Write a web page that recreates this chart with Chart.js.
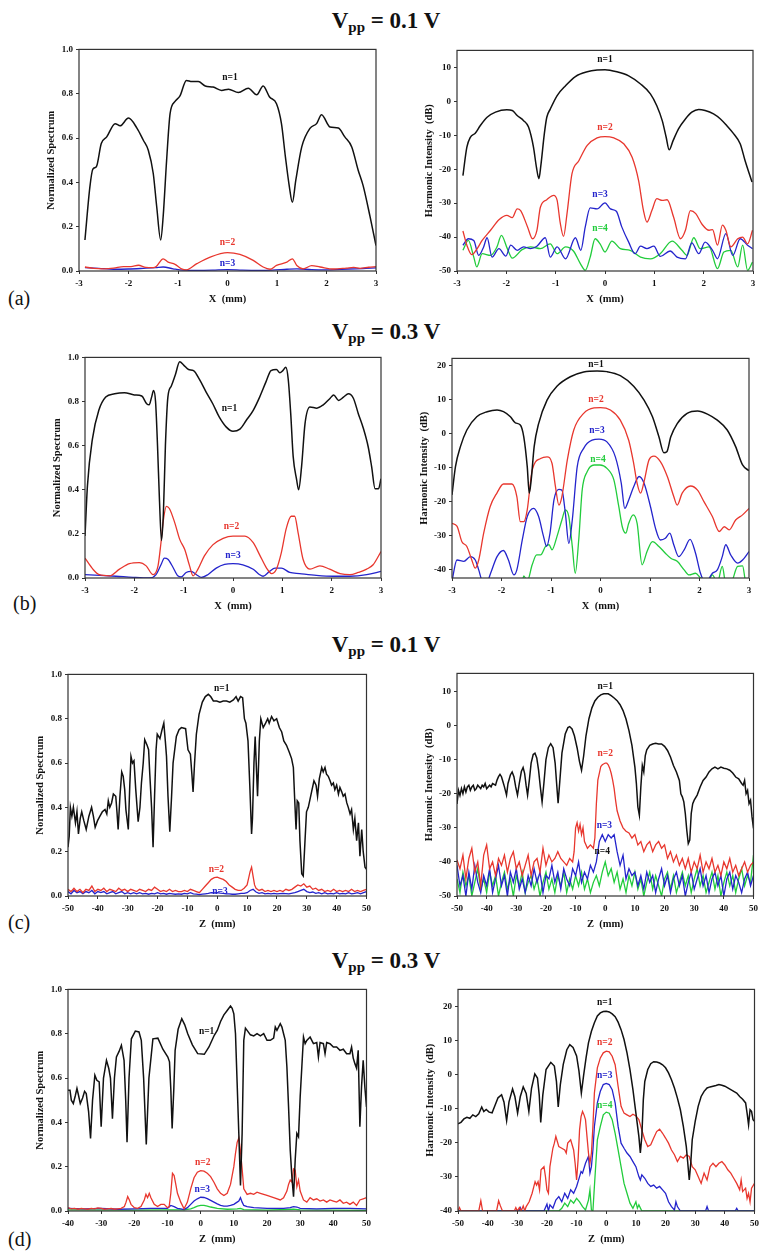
<!DOCTYPE html>
<html>
<head>
<meta charset="utf-8">
<script src="https://cdn.jsdelivr.net/npm/chart.js@4.4.1/dist/chart.umd.min.js"></script>
<style>
  body { margin: 0; background: #fff; width: 768px; height: 1260px; position: relative; overflow: hidden; }
  .ttl { position: absolute; left: 2px; width: 768px; text-align: center; font: bold 23px/1 'Liberation Serif', serif; color: #111; }
  .ttl sub { font-size: 15px; vertical-align: -4px; line-height: 0; }
  .tag { position: absolute; font: 20px/1 'Liberation Serif', serif; color: #111; }
  canvas { position: absolute; }
</style>
</head>
<body>
<div class="ttl" style="top:9px">V<sub>pp</sub> = 0.1 V</div>
<div class="ttl" style="top:320px">V<sub>pp</sub> = 0.3 V</div>
<div class="ttl" style="top:633px">V<sub>pp</sub> = 0.1 V</div>
<div class="ttl" style="top:949px">V<sub>pp</sub> = 0.3 V</div>
<div class="tag" style="left:8px;top:288px">(a)</div>
<div class="tag" style="left:13px;top:593px">(b)</div>
<div class="tag" style="left:8px;top:912px">(c)</div>
<div class="tag" style="left:8px;top:1229px">(d)</div>
<script>
// ---------- (a) X scan, Vpp = 0.1 V ----------
const aSpecN1 = [[-2.88,0.14],[-2.78,0.38],[-2.72,0.46],[-2.65,0.47],[-2.55,0.575],[-2.44,0.605],[-2.27,0.665],[-2.17,0.655],[-2.0,0.69],[-1.83,0.645],[-1.7,0.59],[-1.6,0.545],[-1.5,0.44],[-1.43,0.29],[-1.35,0.14],[-1.3,0.245],[-1.23,0.5],[-1.16,0.71],[-1.06,0.765],[-0.96,0.79],[-0.83,0.86],[-0.72,0.855],[-0.59,0.855],[-0.45,0.835],[-0.29,0.83],[-0.12,0.815],[0.02,0.82],[0.22,0.805],[0.42,0.825],[0.59,0.795],[0.72,0.835],[0.85,0.785],[0.99,0.755],[1.09,0.665],[1.17,0.515],[1.25,0.38],[1.31,0.31],[1.38,0.41],[1.5,0.56],[1.67,0.645],[1.8,0.665],[1.9,0.705],[2.07,0.65],[2.24,0.645],[2.37,0.605],[2.51,0.56],[2.64,0.455],[2.74,0.385],[2.88,0.245],[3.0,0.115]];
const aSpecN2 = [[-2.88,0.018],[-2.7,0.012],[-2.5,0.01],[-2.3,0.013],[-2.1,0.02],[-1.95,0.02],[-1.8,0.026],[-1.65,0.016],[-1.5,0.015],[-1.44,0.02],[-1.3,0.055],[-1.2,0.04],[-1.06,0.03],[-0.93,0.01],[-0.83,0.005],[-0.62,0.033],[-0.35,0.063],[0,0.083],[0.25,0.075],[0.52,0.048],[0.72,0.018],[0.86,0.008],[0.99,0.025],[1.2,0.04],[1.31,0.055],[1.4,0.025],[1.53,0.01],[1.7,0.024],[1.87,0.018],[2.14,0.009],[2.4,0.013],[2.55,0.016],[2.68,0.012],[2.85,0.017],[3.0,0.02]];
const aSpecN3 = [[-2.88,0.015],[-2.6,0.012],[-2.3,0.008],[-2.0,0.009],[-1.7,0.012],[-1.45,0.015],[-1.3,0.018],[-1.1,0.01],[-0.9,0.004],[-0.6,0.003],[-0.3,0.004],[0,0.006],[0.3,0.004],[0.6,0.003],[0.9,0.004],[1.2,0.008],[1.4,0.01],[1.7,0.006],[2.0,0.005],[2.3,0.008],[2.6,0.01],[2.8,0.012],[3.0,0.014]];

const aDbN1 = [[-2.88,-21.9],[-2.8,-13.5],[-2.73,-10.6],[-2.63,-9.4],[-2.53,-7.2],[-2.39,-4.7],[-2.22,-3.2],[-1.99,-2.5],[-1.88,-2.7],[-1.78,-4.2],[-1.65,-5.7],[-1.55,-7.6],[-1.45,-13.5],[-1.39,-19.4],[-1.34,-22.8],[-1.3,-18.9],[-1.23,-9.6],[-1.18,-4.7],[-1.11,-2.3],[-0.97,1.7],[-0.8,4.6],[-0.6,7.3],[-0.36,8.7],[-0.16,9.2],[0,9.3],[0.24,8.7],[0.48,7.5],[0.72,5.1],[0.92,2.2],[1.05,-1.3],[1.16,-5.7],[1.24,-10.6],[1.3,-14.3],[1.38,-11.6],[1.49,-8.1],[1.63,-5.2],[1.76,-3.2],[1.9,-2.4],[2.03,-2.7],[2.2,-3.7],[2.34,-5.2],[2.47,-7.2],[2.61,-9.6],[2.74,-12.5],[2.84,-17.5],[2.98,-23.8]];
const aDbN2 = [[-2.88,-38.2],[-2.8,-42.4],[-2.7,-45.2],[-2.59,-43.4],[-2.49,-41],[-2.32,-38],[-2.15,-34.9],[-1.99,-33.6],[-1.88,-34.3],[-1.78,-31.7],[-1.71,-32.2],[-1.57,-37],[-1.47,-40.5],[-1.38,-38],[-1.31,-31.2],[-1.18,-29],[-1.04,-27.7],[-0.97,-29.2],[-0.91,-35.6],[-0.84,-39.8],[-0.77,-33.1],[-0.67,-21.4],[-0.53,-17.5],[-0.36,-13],[-0.16,-10.8],[0,-10.4],[0.18,-10.8],[0.38,-12.5],[0.55,-16.5],[0.68,-23.3],[0.78,-32.2],[0.85,-35.6],[0.95,-32.2],[1.05,-28.7],[1.16,-29.2],[1.26,-29],[1.39,-34.1],[1.53,-40.5],[1.63,-38],[1.73,-32.2],[1.84,-33.1],[1.97,-36.3],[2.11,-38],[2.18,-37.8],[2.28,-42.4],[2.38,-36.5],[2.45,-38],[2.55,-42.9],[2.69,-40.5],[2.79,-40],[2.89,-42],[2.99,-38]];
const aDbN3 = [[-2.88,-42.4],[-2.77,-40.5],[-2.66,-41],[-2.56,-45.4],[-2.46,-42.9],[-2.39,-40.2],[-2.29,-45.9],[-2.15,-43.4],[-2.01,-45.6],[-1.91,-42.4],[-1.78,-43.9],[-1.65,-42.9],[-1.51,-43.4],[-1.38,-42.7],[-1.21,-40.2],[-1.11,-45.9],[-0.97,-42.9],[-0.8,-46.4],[-0.6,-40.2],[-0.49,-43.9],[-0.4,-37],[-0.3,-31.4],[-0.16,-31.7],[0,-29.9],[0.11,-31.7],[0.23,-32.4],[0.34,-37],[0.48,-41.5],[0.61,-44.9],[0.72,-42.7],[0.85,-43.4],[0.99,-42.7],[1.12,-45.7],[1.32,-44.1],[1.46,-45.9],[1.63,-46.4],[1.76,-41.7],[1.9,-44.9],[2.03,-41.5],[2.18,-43.9],[2.28,-46.4],[2.45,-39],[2.59,-45.4],[2.74,-40.5],[2.89,-42.4],[2.99,-43.4]];
const aDbN4 = [[-2.88,-43.9],[-2.77,-41],[-2.66,-45.9],[-2.6,-48.8],[-2.49,-44.9],[-2.32,-45.4],[-2.19,-42.9],[-2.1,-39.5],[-1.98,-43.4],[-1.88,-46.2],[-1.68,-43.7],[-1.51,-42.9],[-1.31,-43.4],[-1.11,-42],[-0.97,-44.9],[-0.8,-42.9],[-0.64,-44.1],[-0.5,-47.8],[-0.4,-49.8],[-0.3,-45.9],[-0.2,-40.5],[-0.1,-42],[0,-44.4],[0.14,-41.2],[0.31,-43.4],[0.51,-43.9],[0.72,-45.9],[0.92,-46.4],[1.12,-44.9],[1.36,-41.2],[1.56,-43.9],[1.66,-45.4],[1.8,-40.2],[1.93,-43.4],[2.11,-42.9],[2.28,-49.3],[2.41,-44.4],[2.55,-43.9],[2.69,-48.8],[2.79,-42.4],[2.89,-49.8],[2.99,-47.4]];

// ---------- (b) X scan, Vpp = 0.3 V ----------
const bSpecN1 = [[-3.0,0.19],[-2.95,0.42],[-2.85,0.63],[-2.72,0.76],[-2.58,0.82],[-2.4,0.835],[-2.2,0.84],[-2.0,0.83],[-1.85,0.825],[-1.75,0.79],[-1.7,0.785],[-1.65,0.82],[-1.61,0.85],[-1.57,0.8],[-1.53,0.6],[-1.49,0.35],[-1.45,0.17],[-1.41,0.3],[-1.37,0.6],[-1.32,0.82],[-1.25,0.87],[-1.17,0.92],[-1.08,0.98],[-1.0,0.965],[-0.9,0.945],[-0.8,0.94],[-0.68,0.9],[-0.55,0.845],[-0.41,0.79],[-0.28,0.73],[-0.14,0.685],[0,0.665],[0.14,0.675],[0.27,0.715],[0.41,0.76],[0.54,0.82],[0.67,0.89],[0.77,0.94],[0.88,0.945],[0.95,0.93],[1.01,0.94],[1.07,0.955],[1.12,0.9],[1.17,0.745],[1.22,0.55],[1.29,0.445],[1.33,0.4],[1.39,0.505],[1.46,0.7],[1.56,0.775],[1.7,0.77],[1.83,0.785],[1.97,0.815],[2.04,0.83],[2.14,0.805],[2.24,0.82],[2.34,0.835],[2.44,0.815],[2.54,0.745],[2.64,0.68],[2.74,0.595],[2.81,0.505],[2.88,0.405],[2.95,0.405],[3.0,0.45]];
const bSpecN2 = [[-3.0,0.09],[-2.84,0.04],[-2.71,0.015],[-2.5,0.01],[-2.3,0.04],[-2.1,0.065],[-1.9,0.07],[-1.76,0.055],[-1.62,0.015],[-1.52,0.055],[-1.46,0.16],[-1.41,0.265],[-1.35,0.325],[-1.29,0.315],[-1.18,0.25],[-1.08,0.175],[-0.98,0.13],[-0.88,0.055],[-0.81,0.01],[-0.71,0.04],[-0.58,0.1],[-0.41,0.15],[-0.2,0.18],[0,0.19],[0.24,0.19],[0.41,0.16],[0.54,0.105],[0.68,0.045],[0.78,0.02],[0.88,0.04],[0.98,0.115],[1.08,0.225],[1.18,0.28],[1.25,0.28],[1.32,0.205],[1.42,0.085],[1.56,0.04],[1.76,0.055],[1.96,0.04],[2.17,0.02],[2.37,0.015],[2.54,0.025],[2.71,0.04],[2.84,0.06],[3.0,0.12]];
const bSpecN3 = [[-3.0,0.015],[-2.7,0.012],[-2.37,0.008],[-2.03,0.003],[-1.69,0.0],[-1.56,0.015],[-1.46,0.06],[-1.39,0.09],[-1.32,0.085],[-1.22,0.05],[-1.12,0.01],[-1.05,0.005],[-0.95,0.025],[-0.85,0.03],[-0.74,0.015],[-0.64,0.003],[-0.51,0.015],[-0.34,0.045],[-0.17,0.062],[0,0.065],[0.2,0.06],[0.41,0.04],[0.54,0.015],[0.61,0.008],[0.74,0.03],[0.85,0.045],[0.98,0.045],[1.15,0.025],[1.35,0.02],[1.69,0.012],[2.03,0.008],[2.37,0.008],[2.71,0.015],[3.0,0.03]];

const bDbN1 = [[-3,-18.1],[-2.93,-9.8],[-2.83,-3.9],[-2.7,1.0],[-2.5,4.9],[-2.29,6.4],[-2.09,6.9],[-1.96,6.4],[-1.82,4.9],[-1.72,3.1],[-1.62,2.5],[-1.55,-1],[-1.48,-9.8],[-1.44,-17.6],[-1.4,-13.7],[-1.34,-3.9],[-1.25,2.9],[-1.08,9.8],[-0.88,13.9],[-0.61,16.7],[-0.34,18.1],[-0.07,18.4],[0.13,18.2],[0.4,17],[0.67,13.9],[0.88,9.8],[1.05,4.9],[1.18,-1],[1.28,-5.7],[1.34,-5.4],[1.42,-1],[1.55,2.9],[1.75,5.9],[1.96,6.6],[2.16,5.7],[2.36,3.9],[2.56,1.0],[2.73,-3.9],[2.87,-9.3],[3.0,-11]];
const bDbN2 = [[-3,-26.5],[-2.9,-27.3],[-2.8,-31.9],[-2.7,-33.3],[-2.6,-37.3],[-2.53,-39.7],[-2.46,-37.3],[-2.36,-29.4],[-2.23,-21.6],[-2.09,-17.5],[-1.96,-14.9],[-1.79,-14.9],[-1.69,-18.6],[-1.62,-26],[-1.55,-26],[-1.48,-22.5],[-1.38,-10.8],[-1.21,-7.4],[-1.08,-6.9],[-0.98,-8.8],[-0.91,-15.7],[-0.84,-21.1],[-0.78,-18.6],[-0.67,-7.8],[-0.54,1.0],[-0.34,5.9],[-0.13,7.5],[0,7.6],[0.2,6.9],[0.4,3.9],[0.57,-2],[0.67,-8.8],[0.74,-14.7],[0.81,-17.6],[0.88,-14.2],[0.98,-7.8],[1.08,-6.7],[1.21,-8.3],[1.35,-12.7],[1.48,-18.6],[1.55,-21.1],[1.65,-17.6],[1.82,-15.5],[1.96,-16.7],[2.09,-20.1],[2.26,-24.5],[2.4,-28.9],[2.5,-27.5],[2.6,-28.4],[2.73,-25.5],[2.87,-24],[3.0,-22.1]];
const bDbN3 = [[-3,-43.5],[-2.9,-37.3],[-2.76,-37.7],[-2.63,-36.3],[-2.53,-37.3],[-2.46,-40.2],[-2.39,-43.5],[-2.3,-44],[-2.22,-41.2],[-2.09,-36.3],[-1.96,-34.5],[-1.86,-37.3],[-1.75,-41.7],[-1.69,-40.2],[-1.58,-31.4],[-1.48,-24.5],[-1.35,-22.1],[-1.25,-24.5],[-1.15,-30.4],[-1.09,-33.3],[-1.02,-29.4],[-0.94,-19.6],[-0.84,-16.5],[-0.78,-16.7],[-0.71,-23.5],[-0.64,-32.4],[-0.57,-25.5],[-0.47,-9.8],[-0.34,-4.4],[-0.17,-2.0],[-0.03,-1.7],[0.13,-2.5],[0.3,-6.9],[0.42,-14.7],[0.49,-22.1],[0.57,-19.6],[0.67,-15.7],[0.78,-12.7],[0.88,-14.7],[1.01,-21.6],[1.11,-27.9],[1.21,-31.4],[1.31,-30.9],[1.4,-29.4],[1.48,-32.8],[1.58,-36.3],[1.69,-34.3],[1.81,-31.2],[1.92,-35.3],[2.02,-41.2],[2.12,-44],[2.26,-41.2],[2.36,-40.2],[2.46,-36.3],[2.53,-32.8],[2.63,-35.8],[2.77,-38.2],[2.87,-37.3],[3.0,-34.8]];
const bDbN4 = [[-3,-45],[-1.6,-45],[-1.55,-42],[-1.48,-43.5],[-1.38,-38.7],[-1.29,-35.8],[-1.21,-35.8],[-1.11,-33.3],[-1.04,-32.8],[-0.98,-34.3],[-0.88,-30.4],[-0.78,-25.5],[-0.71,-22.5],[-0.64,-24.5],[-0.57,-33.3],[-0.51,-41.2],[-0.44,-31.4],[-0.37,-16.7],[-0.27,-11.3],[-0.13,-9.3],[-0.01,-9.3],[0.13,-10.3],[0.27,-13.7],[0.37,-21.6],[0.44,-27.5],[0.51,-29.4],[0.57,-26.5],[0.66,-24],[0.74,-26.5],[0.84,-38.7],[0.94,-34.8],[1.05,-31.9],[1.18,-33.3],[1.31,-35.3],[1.42,-36.8],[1.55,-37.7],[1.69,-40.2],[1.79,-41.7],[1.92,-41.2],[2.02,-42.6],[2.16,-44],[2.26,-41.7],[2.36,-44],[2.46,-39.2],[2.53,-44],[2.63,-44],[2.77,-39.2],[2.87,-39],[2.94,-44],[3.0,-44]];

// ---------- (c) Z scan, Vpp = 0.1 V ----------
const cSpecN1 = [[-50,0.22],[-49.6,0.27],[-49.2,0.4],[-48.7,0.36],[-48.2,0.4],[-47.5,0.33],[-47,0.38],[-46.5,0.28],[-45.9,0.35],[-45.4,0.38],[-44.7,0.34],[-43.9,0.3],[-43,0.36],[-42.1,0.4],[-41.5,0.36],[-40.9,0.31],[-40.1,0.34],[-39.3,0.36],[-38.5,0.38],[-37.6,0.39],[-37,0.37],[-36.5,0.43],[-36,0.4],[-35.4,0.42],[-34.8,0.46],[-34,0.45],[-33.6,0.38],[-33.2,0.3],[-32.6,0.45],[-32,0.56],[-31.5,0.54],[-31,0.48],[-30.6,0.39],[-29.8,0.3],[-29.3,0.5],[-28.9,0.63],[-28.4,0.6],[-27.9,0.61],[-27.3,0.48],[-26.5,0.335],[-25.9,0.4],[-25.4,0.51],[-24.8,0.6],[-24.3,0.705],[-23.5,0.68],[-23,0.66],[-22.6,0.55],[-22,0.4],[-21.5,0.22],[-21,0.45],[-20.5,0.66],[-20.1,0.73],[-19.2,0.71],[-18.5,0.75],[-17.9,0.78],[-17.4,0.7],[-17,0.63],[-16.5,0.45],[-15.9,0.29],[-15.3,0.45],[-14.8,0.6],[-13.7,0.72],[-12.8,0.75],[-12,0.76],[-10.6,0.755],[-9.8,0.66],[-9,0.64],[-8.5,0.55],[-8.1,0.47],[-7.6,0.6],[-7,0.73],[-6.1,0.82],[-5,0.875],[-4,0.9],[-3,0.91],[-2.2,0.9],[-1.3,0.88],[-0.2,0.88],[0.9,0.875],[2,0.88],[3.1,0.88],[4.2,0.875],[5.4,0.885],[6.3,0.9],[7,0.88],[7.8,0.9],[8.5,0.895],[9.1,0.8],[9.6,0.78],[10.3,0.7],[10.9,0.5],[11.5,0.28],[11.8,0.35],[12.3,0.6],[12.7,0.72],[13.2,0.55],[13.5,0.45],[14.1,0.7],[14.6,0.8],[15.4,0.76],[16.2,0.78],[16.9,0.8],[17.4,0.78],[18.2,0.81],[19,0.79],[19.9,0.8],[20.8,0.76],[21.6,0.74],[22.3,0.7],[23.2,0.68],[24.1,0.65],[24.9,0.62],[25.5,0.58],[25.9,0.45],[26.4,0.3],[26.8,0.43],[27.3,0.42],[27.7,0.25],[28.3,0.1],[28.8,0.09],[29.4,0.25],[29.9,0.38],[30.5,0.4],[31.6,0.47],[32.4,0.52],[33.1,0.5],[33.6,0.45],[34.2,0.53],[35,0.58],[35.5,0.56],[36.1,0.58],[36.6,0.55],[37.2,0.54],[37.8,0.52],[38.3,0.5],[38.9,0.51],[39.4,0.48],[40,0.5],[40.6,0.46],[41.1,0.49],[41.7,0.47],[42.2,0.45],[42.8,0.46],[43.4,0.42],[43.9,0.4],[44.5,0.37],[45,0.39],[45.6,0.3],[46.1,0.35],[46.7,0.25],[47.3,0.33],[47.8,0.18],[48.4,0.3],[48.9,0.2],[49.5,0.13],[50,0.12]];
const cSpecN2 = [[-50,0.03],[-49,0.02],[-48,0.035],[-47,0.02],[-46,0.03],[-45,0.015],[-44,0.03],[-43,0.025],[-42,0.045],[-41,0.02],[-40,0.03],[-39,0.025],[-38,0.035],[-37,0.02],[-36,0.03],[-35,0.025],[-34,0.02],[-33,0.035],[-32,0.025],[-31,0.03],[-30,0.02],[-29,0.03],[-28,0.025],[-27,0.02],[-26,0.03],[-25,0.025],[-24,0.02],[-23,0.03],[-22,0.025],[-21,0.04],[-20,0.03],[-19,0.02],[-18,0.025],[-17,0.02],[-16,0.03],[-15,0.02],[-14,0.025],[-13,0.02],[-12,0.02],[-11,0.025],[-10,0.02],[-9,0.03],[-8,0.025],[-7,0.02],[-6,0.015],[-5,0.03],[-4,0.045],[-3,0.06],[-2,0.075],[-1,0.083],[0,0.085],[1,0.08],[2,0.075],[3,0.065],[4,0.05],[5,0.04],[6,0.03],[7,0.025],[8,0.025],[9,0.035],[10,0.05],[10.5,0.08],[11,0.11],[11.5,0.13],[12,0.09],[12.5,0.05],[13,0.035],[14,0.025],[15,0.03],[16,0.02],[17,0.025],[18,0.02],[19,0.025],[20,0.02],[21,0.025],[22,0.02],[23,0.03],[24,0.025],[25,0.03],[26,0.04],[27,0.05],[28,0.045],[29,0.055],[30,0.04],[31,0.045],[32,0.03],[33,0.035],[34,0.025],[35,0.03],[36,0.02],[37,0.025],[38,0.02],[39,0.03],[40,0.02],[41,0.025],[42,0.02],[43,0.025],[44,0.02],[45,0.03],[46,0.02],[47,0.025],[48,0.02],[49,0.025],[50,0.03]];
const cSpecN3 = [[-50,0.02],[-49,0.01],[-48,0.025],[-47,0.015],[-46,0.02],[-45,0.01],[-44,0.02],[-43,0.015],[-42,0.025],[-41,0.01],[-40,0.02],[-39,0.015],[-38,0.02],[-37,0.01],[-36,0.015],[-35,0.02],[-34,0.01],[-33,0.015],[-32,0.02],[-31,0.01],[-30,0.015],[-29,0.01],[-28,0.015],[-27,0.01],[-26,0.015],[-25,0.01],[-24,0.012],[-23,0.008],[-22,0.012],[-21,0.01],[-20,0.015],[-19,0.01],[-18,0.012],[-17,0.008],[-16,0.012],[-15,0.01],[-14,0.008],[-13,0.01],[-12,0.008],[-11,0.012],[-10,0.01],[-9,0.015],[-8,0.01],[-7,0.008],[-6,0.006],[-5,0.008],[-4,0.01],[-3,0.012],[-2,0.015],[-1,0.014],[0,0.015],[1,0.013],[2,0.012],[3,0.01],[4,0.01],[5,0.008],[6,0.008],[7,0.01],[8,0.012],[9,0.012],[10,0.015],[11,0.025],[12,0.03],[13,0.018],[14,0.012],[15,0.015],[16,0.01],[17,0.012],[18,0.01],[19,0.012],[20,0.01],[22,0.012],[24,0.01],[26,0.015],[27,0.02],[28,0.025],[29,0.03],[30,0.02],[31,0.015],[32,0.018],[33,0.012],[34,0.015],[35,0.01],[36,0.015],[37,0.01],[38,0.012],[39,0.01],[40,0.015],[41,0.01],[42,0.012],[43,0.01],[44,0.015],[45,0.01],[46,0.012],[47,0.015],[48,0.01],[49,0.015],[50,0.02]];

const cDbN1 = [[-50,-23],[-49.5,-19],[-49,-20.5],[-48.5,-18.5],[-48,-20],[-47.5,-18],[-47,-19.5],[-46.5,-18],[-46,-17.5],[-45.5,-19],[-45,-18],[-44.5,-17.5],[-44,-19],[-43.5,-18.5],[-43,-17.5],[-42,-18.5],[-41.5,-17.5],[-41,-18],[-40.5,-17],[-40,-18.5],[-39,-17.5],[-38.5,-18],[-38,-17],[-37,-17.5],[-36.5,-16],[-36,-15],[-35.5,-14.3],[-35,-15],[-34.5,-16.5],[-34,-18],[-33.3,-20.4],[-32.8,-17],[-32,-14.5],[-31.4,-13.6],[-30.8,-15],[-30.2,-18],[-29.6,-20.4],[-29,-17],[-28.3,-13.5],[-27.7,-12.3],[-27.2,-14],[-26.7,-17.5],[-26.2,-20.4],[-25.6,-16],[-25,-11],[-24.3,-8.5],[-23.7,-8.1],[-23.1,-9.5],[-22.5,-13],[-21.9,-18],[-21.3,-22.4],[-20.7,-17],[-20,-10],[-19.2,-6.5],[-18.4,-5.3],[-17.6,-6.5],[-16.9,-11],[-16.4,-17],[-15.9,-22.8],[-15.3,-16],[-14.6,-8],[-13.5,-2.5],[-12.6,-0.6],[-12,-0.3],[-11.2,-1],[-10.4,-3],[-9.5,-6.5],[-8.7,-10.5],[-8,-13.1],[-7.3,-9],[-6.5,-3],[-5.5,2],[-4.5,5.2],[-3.5,7.2],[-2.5,8.3],[-1.5,9],[-0.5,9.3],[0.4,9.3],[1,9.3],[2,8.8],[3,8.1],[4,7.3],[5,6.1],[6,4.4],[7,1.9],[8,-1.5],[9,-5.8],[10,-12.2],[10.5,-17],[11,-23.9],[11.5,-26.3],[12,-18],[12.5,-11.7],[13,-13.6],[13.5,-8.8],[14,-7.1],[15,-5.8],[16,-5.4],[17,-5.2],[18,-5.4],[19,-5.4],[20,-6.1],[21,-7.3],[22,-9.2],[23,-11.7],[24,-13.6],[25,-16.1],[25.5,-20],[26,-20.9],[26.5,-22.4],[27,-25.8],[27.5,-30.7],[28,-34.6],[28.5,-33.6],[29,-25.8],[29.5,-22.9],[30,-21.9],[31,-20.4],[32,-18],[33,-16.1],[34,-15.1],[35,-13.6],[36,-12.7],[37,-12.2],[38,-12.7],[39,-12.2],[40,-12.5],[41,-12.7],[42,-13.1],[43,-13.9],[44,-15.1],[45,-15.6],[46,-17],[46.5,-17.5],[47,-16.1],[47.5,-20],[48,-19],[48.5,-22.9],[49,-21.9],[49.5,-26.8],[50,-30.2]];
const cDbN2 = [[-50,-39.4],[-49,-42],[-48,-38],[-47,-45],[-46,-39],[-45,-36],[-44,-43],[-43,-40],[-42,-47],[-41,-38],[-40,-35],[-39,-42],[-38,-40],[-37,-44],[-36,-39],[-35,-41],[-34,-38],[-33,-43],[-32,-39],[-31,-37],[-30,-42],[-29,-40],[-28,-44],[-27,-41],[-26,-38],[-25,-44],[-24,-40],[-23,-39],[-22,-43],[-21,-36],[-20,-41],[-19,-38],[-18,-40],[-17,-39],[-16,-37],[-15,-39],[-14,-40],[-13,-41],[-12,-39],[-11,-40],[-10.5,-37],[-10,-30],[-9.5,-28.5],[-9,-31],[-8.5,-29],[-8,-32],[-7.5,-30],[-7,-34],[-6,-36],[-5,-35],[-4,-36],[-3.5,-33],[-3,-23],[-2.5,-16],[-2,-14],[-1.5,-12],[-1,-11.5],[0,-11],[0.5,-11],[1,-11.5],[1.5,-12.5],[2,-14],[2.5,-16],[3,-18.5],[3.5,-22],[4,-25],[5,-28],[6,-30],[7,-31],[8,-31.5],[9,-33],[10,-32],[11,-35],[12,-34],[13,-37],[14,-35],[15,-34],[16,-37],[17,-35],[18,-34],[19,-36],[20,-35],[21,-39],[22,-37],[23,-40],[24,-38],[25,-41],[26,-39],[27,-42],[28,-39],[29,-43],[30,-40],[31,-42],[32,-38],[33,-43],[34,-40],[35,-42],[36,-39],[37,-43],[38,-41],[39,-44],[40,-40],[41,-42],[42,-39],[43,-43],[44,-41],[45,-44],[46,-42],[47,-40],[48,-43],[49,-41],[50,-40]];
// n=3 and n=4 sampled at every 1 mm from Z = -50 mm
const cDbN3 = [-41,-47,-44,-50,-43,-48,-41,-46,-49,-44, -47,-42,-49,-45,-41,-47,-44,-50,-43,-46, -42,-48,-45,-49,-44,-47,-42,-46,-43,-49, -44,-45,-41,-46,-43,-48,-42,-45,-47,-42, -44,-40,-46,-43,-45,-41,-43,-40,-34,-32, -34,-32,-33,-32,-37,-41,-38,-45,-42,-44, -43,-47,-44,-48,-43,-46,-44,-49,-45,-42, -47,-44,-49,-45,-43,-47,-44,-50,-46,-43, -48,-45,-42,-47,-44,-49,-45,-43,-47,-44, -50,-45,-43,-48,-44,-46,-49,-45,-43,-47, -44];
const cDbN4 = [-45,-49,-43,-47,-44,-50,-46,-42,-48,-45, -49,-43,-47,-44,-50,-46,-43,-48,-45,-50, -44,-47,-43,-49,-46,-44,-48,-45,-50,-46, -43,-48,-45,-49,-44,-47,-43,-49,-45,-48, -44,-47,-43,-48,-45,-49,-46,-44,-47,-43, -40,-44,-42,-46,-43,-48,-45,-49,-44,-47, -43,-48,-45,-50,-46,-43,-48,-44,-47,-50, -45,-43,-48,-44,-49,-46,-43,-47,-44,-49, -45,-42,-47,-44,-49,-46,-43,-48,-44,-50, -46,-43,-47,-44,-49,-45,-42,-47,-44,-46, -38];

// ---------- (d) Z scan, Vpp = 0.3 V ----------
const dSpecN1 = [[-40,0.545],[-39.4,0.545],[-39,0.5],[-38.4,0.485],[-37.8,0.52],[-37.3,0.553],[-36.8,0.52],[-36.3,0.485],[-35.6,0.51],[-35,0.54],[-34.5,0.53],[-33.8,0.45],[-33.2,0.327],[-32.6,0.5],[-31.9,0.613],[-31.3,0.59],[-30.6,0.583],[-30,0.38],[-29.3,0.6],[-28.4,0.68],[-27.7,0.643],[-27.2,0.6],[-26.6,0.417],[-26,0.6],[-25.4,0.695],[-24.6,0.72],[-23.9,0.748],[-23.1,0.68],[-22.6,0.5],[-22.2,0.31],[-21.6,0.6],[-20.9,0.777],[-19.7,0.812],[-18.6,0.808],[-17.9,0.77],[-17.2,0.6],[-16.4,0.3],[-15.6,0.6],[-14.4,0.777],[-12.9,0.78],[-11.4,0.73],[-9.9,0.695],[-9.4,0.673],[-9,0.55],[-8.6,0.372],[-8.1,0.55],[-7.7,0.725],[-6.8,0.82],[-5.7,0.868],[-4.8,0.84],[-3.9,0.8],[-2.5,0.75],[-0.9,0.71],[1.1,0.707],[2.5,0.74],[4.1,0.793],[5,0.815],[6,0.855],[7,0.885],[8,0.905],[9,0.925],[9.5,0.915],[10,0.89],[10.5,0.8],[11,0.575],[11.5,0.35],[12,0.115],[12.5,0.35],[13,0.77],[13.5,0.825],[14,0.815],[15,0.795],[16,0.79],[17,0.8],[18,0.79],[19,0.8],[20,0.77],[21,0.77],[22,0.78],[22.5,0.83],[23,0.815],[24,0.845],[24.5,0.83],[25,0.8],[25.5,0.77],[26,0.65],[26.5,0.47],[27,0.275],[27.5,0.155],[28,0.065],[28.5,0.23],[29,0.35],[29.5,0.335],[30,0.515],[30.5,0.65],[31,0.785],[31.5,0.755],[32,0.77],[33,0.785],[33.5,0.77],[34,0.755],[35,0.76],[35.5,0.695],[36,0.76],[37,0.755],[37.5,0.71],[38,0.76],[39,0.755],[40,0.74],[41,0.74],[42,0.725],[43,0.73],[44,0.71],[45,0.71],[45.5,0.74],[46,0.69],[46.5,0.665],[47,0.645],[47.5,0.725],[48,0.38],[48.5,0.56],[49,0.68],[49.5,0.56],[50,0.47]];
const dSpecN2 = [[-40,0.015],[-39,0.01],[-38,0.012],[-37,0.008],[-36,0.012],[-35,0.01],[-34,0.008],[-33,0.012],[-32,0.01],[-31,0.014],[-30,0.012],[-29,0.008],[-28,0.01],[-27,0.012],[-26,0.008],[-25,0.01],[-24,0.012],[-23,0.02],[-22.5,0.04],[-22,0.065],[-21.5,0.05],[-21,0.03],[-20,0.015],[-19,0.012],[-18,0.02],[-17,0.05],[-16.5,0.075],[-16,0.06],[-15.5,0.08],[-15,0.06],[-14,0.03],[-13,0.02],[-12,0.03],[-11,0.03],[-10,0.015],[-9.5,0.02],[-9,0.08],[-8.5,0.17],[-8,0.16],[-7.5,0.12],[-7,0.08],[-6,0.04],[-5,0.01],[-4,0.04],[-3,0.1],[-2,0.15],[-1,0.175],[0,0.182],[1,0.18],[2,0.17],[3,0.155],[4,0.13],[5,0.1],[6,0.08],[7,0.07],[8,0.08],[9,0.12],[10,0.2],[10.5,0.26],[11,0.31],[11.5,0.33],[12,0.27],[12.5,0.19],[13,0.1],[14,0.075],[15,0.08],[16,0.075],[17,0.085],[18,0.08],[20,0.07],[22,0.06],[24,0.05],[25,0.06],[26,0.09],[26.5,0.12],[27,0.14],[27.5,0.13],[28,0.19],[28.5,0.185],[29,0.11],[29.5,0.14],[30,0.09],[31,0.05],[32,0.04],[33,0.06],[34,0.05],[35,0.055],[36,0.045],[37,0.05],[38,0.04],[39,0.05],[40,0.045],[41,0.04],[42,0.05],[43,0.035],[44,0.04],[45,0.03],[46,0.04],[47,0.025],[48,0.05],[49,0.055],[50,0.06]];
const dSpecN3 = [[-40,0.012],[-35,0.01],[-30,0.012],[-25,0.008],[-20,0.01],[-15,0.012],[-10,0.012],[-9,0.025],[-8,0.02],[-7,0.012],[-6,0.01],[-5,0.006],[-4,0.015],[-3,0.03],[-2,0.045],[-1,0.055],[0,0.062],[1,0.061],[2,0.056],[3,0.048],[4,0.04],[5,0.032],[6,0.025],[7,0.022],[8,0.022],[9,0.025],[10,0.03],[11,0.04],[11.5,0.045],[12,0.06],[12.5,0.04],[13,0.025],[14,0.02],[16,0.015],[20,0.012],[25,0.012],[27,0.015],[28,0.02],[29,0.018],[30,0.012],[35,0.01],[40,0.012],[45,0.012],[50,0.01]];
const dSpecN4 = [[-40,0.005],[-20,0.004],[-10,0.005],[-5,0.005],[-3,0.01],[-2,0.015],[-1,0.022],[0,0.025],[1,0.025],[2,0.022],[3,0.018],[5,0.012],[8,0.008],[11,0.01],[12,0.012],[13,0.006],[20,0.004],[28,0.008],[30,0.005],[40,0.004],[50,0.003]];

const dDbN1 = [[-50,-14.4],[-49,-14],[-48,-13],[-47,-12.5],[-46,-12.8],[-45,-11.8],[-44,-12.3],[-43,-11.5],[-42,-9.5],[-41.3,-10.8],[-40.5,-10.2],[-39.5,-11],[-38.5,-11.2],[-37.5,-9],[-36.5,-6.8],[-35.3,-5.9],[-34.5,-8],[-33.6,-13.5],[-32.8,-8],[-31.6,-4.2],[-30.8,-6.5],[-29.9,-11.3],[-29,-6.5],[-28,-3.6],[-27,-5.5],[-26.1,-10.8],[-25.2,-4],[-24.1,0.2],[-23.2,-1],[-22.6,-6],[-22.1,-14],[-21.4,-6],[-20.3,1.5],[-18.7,3.6],[-17.5,2.5],[-16.8,-2],[-16.2,-9.5],[-15.5,-3],[-14.5,3],[-13.3,7.3],[-12.3,8.8],[-11.2,8],[-10,5.5],[-9.2,1],[-8.4,-5.4],[-7.6,0],[-6.8,5],[-6,9.3],[-5,12.7],[-4,15.2],[-3,17.2],[-2,18.1],[-1,18.5],[0,18.6],[1,18.4],[2,17.8],[3,17],[4,15.4],[5,13.2],[6,10.3],[7,6.4],[8,1.5],[9,-4.4],[10,-11.3],[11,-18.1],[11.5,-23],[12,-18.1],[12.5,-7.4],[13,-2],[14,1.5],[15,3.2],[16,3.8],[17,3.7],[18,3.4],[19,2.9],[20,2],[21,0.5],[22,-1.5],[23,-3.9],[24,-6.9],[25,-10.3],[26,-15.2],[27,-21.1],[27.5,-26],[28,-30.9],[28.5,-26],[29,-19.1],[30,-13.7],[31,-9.3],[32,-6.4],[33,-4.9],[34,-3.9],[35,-3.6],[36,-3.4],[37,-3.2],[38,-2.9],[39,-3.1],[40,-3.4],[41,-3.9],[42,-4.4],[43,-4.9],[44,-5.4],[45,-6.4],[46,-7.2],[47,-8.3],[47.5,-11.3],[48,-14.7],[48.5,-10.3],[49,-10.8],[49.5,-13.2],[50,-13.7]];
const dDbN2 = [[-50,-40],[-49.5,-39],[-49,-40],[-43,-40],[-42.3,-37],[-41.7,-40],[-37,-40],[-36.3,-37],[-35.7,-38.5],[-35,-40],[-31,-40],[-30.5,-39],[-30,-40],[-29.3,-39],[-28.7,-40],[-28,-38.5],[-27.5,-40],[-27,-38.7],[-26,-37.3],[-25,-34.8],[-24,-31.4],[-23.5,-32.4],[-23,-31.4],[-22.5,-33.8],[-22,-27.9],[-21,-27],[-20.5,-29.9],[-20,-33.8],[-19.5,-34.8],[-19,-27],[-18,-21.6],[-17.5,-20.1],[-17,-18.1],[-16.5,-19.6],[-16,-21.1],[-15,-21.6],[-14,-22.1],[-13.5,-23],[-13,-20.1],[-12,-19.1],[-11,-22.1],[-10.5,-26],[-10,-30.9],[-9.5,-25],[-9,-16.2],[-8.5,-12.3],[-8,-10.8],[-7.5,-11.8],[-7,-13.2],[-6.5,-18.1],[-6,-23],[-5.5,-26],[-5,-23],[-4.5,-15.2],[-4,-5.4],[-3,2],[-2,4.9],[-1,6.4],[0,6.9],[1,6.7],[2,5.4],[3,2.9],[4,-3.4],[5,-9.3],[6,-11.3],[7,-11.8],[8,-12.3],[9,-11.6],[10,-12.1],[11,-13.2],[12,-16.2],[13,-19.1],[14,-21.1],[15,-20.6],[16,-18.6],[17,-16.7],[18,-16],[19,-17.2],[20,-18.6],[21,-20.1],[22,-22.1],[23,-23.5],[24,-25.5],[25,-24],[26,-24.5],[27,-23.5],[28,-24],[29,-27],[30,-27.9],[31,-29.9],[32,-31.9],[33,-28.9],[34,-30.9],[35,-27],[36,-26],[37,-27],[38,-26],[39,-25.5],[40,-26.5],[41,-27.9],[42,-28.9],[43,-30.4],[44,-31.9],[45,-33.8],[45.5,-30.9],[46,-34.3],[47,-33.3],[47.5,-36.3],[48,-34.8],[48.5,-37.3],[49,-33.3],[50,-31.9]];
const dDbN3 = [[-50,-40],[-29.5,-40],[-29,-39],[-28.5,-40],[-21,-40],[-20,-38],[-19.5,-40],[-19,-38.2],[-18,-39.2],[-17,-36.8],[-16,-35.8],[-15,-37.3],[-14,-34.8],[-13,-36.3],[-12,-33.8],[-11,-34.8],[-10,-32.8],[-9,-29.9],[-8.5,-28.4],[-8,-28.9],[-7,-26],[-6,-24],[-5.5,-28.9],[-5,-27],[-4.5,-22.1],[-4,-15.2],[-3,-8.3],[-2,-4.9],[-1,-2.9],[0,-2.6],[1,-2.9],[2,-4.4],[3,-8.3],[4,-15.2],[5,-20.1],[6,-21.6],[7,-23],[8,-24],[9,-25.5],[10,-27],[11,-29.9],[11.5,-30.9],[12,-29.4],[13,-30.4],[14,-31.9],[15,-32.8],[16,-32.4],[17,-33.3],[18,-32.8],[19,-33.8],[20,-34.8],[21,-37.3],[22,-38.7],[23,-39.7],[23.5,-37.3],[24,-38.7],[25,-40],[33.5,-40],[34,-38.7],[34.5,-40],[43.5,-40],[44,-39.2],[44.5,-40],[50,-40]];
const dDbN4 = [[-50,-40],[-16,-40],[-15,-39.2],[-14,-37.7],[-13,-38.7],[-12,-36.8],[-11,-37.7],[-10,-36.3],[-9,-37.3],[-8,-38.7],[-7,-39.7],[-6,-36.8],[-5.5,-33.8],[-5,-39.7],[-4.5,-40],[-4,-32.8],[-3,-19.1],[-2,-15.2],[-1,-11.8],[0,-11],[1,-11.3],[2,-13.2],[3,-17.2],[4,-22.1],[5,-27],[6,-31.9],[7,-34.8],[8,-37.7],[9,-39.2],[10,-37.3],[10.5,-39.2],[11,-38.2],[12,-40],[50,-40]];

// ---------- drawing ----------
const SERIF = "'Liberation Serif', 'Times New Roman', serif";
const INK = '#111111';
const RED = '#e8372e';
const BLUE = '#2424cc';
const GREEN = '#22cc3c';

const tickFont = { family: SERIF, size: 9, weight: 'bold' };
const axisFont = { family: SERIF, size: 10.5, weight: 'bold' };

function pairs(list) {
    return list.map(p => ({ x: p[0], y: p[1] }));
}

function everyMm(values, start) {
    return values.map((v, i) => ({ x: start + i, y: v }));
}

const framePlugin = {
    id: 'frame',
    afterDatasetsDraw(chart) {
        const { ctx, chartArea: a } = chart;
        ctx.save();
        ctx.strokeStyle = '#333';
        ctx.lineWidth = 1.2;
        ctx.strokeRect(a.left, a.top, a.right - a.left, a.bottom - a.top);
        ctx.restore();
    }
};

function notesPlugin(notes) {
    return {
        id: 'notes',
        afterDatasetsDraw(chart) {
            const { ctx, scales } = chart;
            ctx.save();
            ctx.font = "bold 9.5px " + SERIF;
            ctx.textAlign = 'center';
            ctx.textBaseline = 'middle';
            notes.forEach(n => {
                ctx.fillStyle = n.color;
                ctx.fillText(n.text, scales.x.getPixelForValue(n.x), scales.y.getPixelForValue(n.y));
            });
            ctx.restore();
        }
    };
}

function panel(p) {
    const [L, T, R, B] = p.rect;
    const cv = document.createElement('canvas');
    cv.width = (R - L) + 68;
    cv.height = (B - T) + 48;
    cv.style.left = (L - 60) + 'px';
    cv.style.top = (T - 8) + 'px';
    document.body.appendChild(cv);

    const smooth = p.smooth;
    new Chart(cv, {
        type: 'line',
        data: {
            datasets: p.series.map(s => ({
                data: s.data,
                borderColor: s.color,
                borderWidth: s.color === INK ? 1.5 : 1.3,
                pointRadius: 0,
                fill: false,
                tension: smooth ? 0.4 : 0,
                cubicInterpolationMode: smooth ? 'monotone' : 'default'
            }))
        },
        options: {
            responsive: false,
            animation: false,
            devicePixelRatio: 1,
            layout: { padding: { top: 8, right: 8, left: 0, bottom: 0 } },
            plugins: { legend: { display: false }, tooltip: { enabled: false } },
            scales: {
                x: {
                    type: 'linear',
                    min: p.x[0], max: p.x[1],
                    afterFit: s => { s.height = 40; },
                    border: { display: false },
                    grid: { drawOnChartArea: false, tickLength: 3, color: '#333' },
                    ticks: { stepSize: p.x[2], font: tickFont, color: INK, padding: 4, maxRotation: 0, autoSkip: false, includeBounds: false },
                    title: { display: true, text: p.xTitle, font: axisFont, color: INK, padding: { top: 0, bottom: 5 } }
                },
                y: {
                    type: 'linear',
                    min: p.y[0], max: p.y[1],
                    afterFit: s => { s.width = 60; },
                    border: { display: false },
                    grid: { drawOnChartArea: false, tickLength: 3, color: '#333' },
                    ticks: {
                        stepSize: p.y[2], font: tickFont, color: INK, padding: 3, autoSkip: false, includeBounds: false,
                        callback: p.y[2] < 1 ? (v => v.toFixed(1)) : (v => v)
                    },
                    title: { display: true, text: p.yTitle, font: axisFont, color: INK, padding: { top: 26, bottom: 0 } }
                }
            }
        },
        plugins: [framePlugin, notesPlugin(p.notes)]
    });
}

const SPEC = 'Normalized Spectrum';
const DB = 'Harmonic Intensity  (dB)';
const XMM = 'X  (mm)';
const ZMM = 'Z  (mm)';

panel({
    rect: [79, 49, 376, 271], x: [-3, 3, 1], y: [0, 1, 0.2], xTitle: XMM, yTitle: SPEC, smooth: true,
    series: [{ data: pairs(aSpecN1), color: INK }, { data: pairs(aSpecN2), color: RED }, { data: pairs(aSpecN3), color: BLUE }],
    notes: [{ text: 'n=1', x: 0.05, y: 0.875, color: INK }, { text: 'n=2', x: 0, y: 0.13, color: RED }, { text: 'n=3', x: 0, y: 0.035, color: BLUE }]
});
panel({
    rect: [457, 50, 753, 271], x: [-3, 3, 1], y: [-50, 15, 10], xTitle: XMM, yTitle: DB, smooth: true,
    series: [{ data: pairs(aDbN1), color: INK }, { data: pairs(aDbN2), color: RED }, { data: pairs(aDbN3), color: BLUE }, { data: pairs(aDbN4), color: GREEN }],
    notes: [{ text: 'n=1', x: 0, y: 12.2, color: INK }, { text: 'n=2', x: 0, y: -7.6, color: RED }, { text: 'n=3', x: -0.1, y: -27.6, color: BLUE }, { text: 'n=4', x: -0.1, y: -37.5, color: GREEN }]
});
panel({
    rect: [85, 357, 381, 578], x: [-3, 3, 1], y: [0, 1, 0.2], xTitle: XMM, yTitle: SPEC, smooth: true,
    series: [{ data: pairs(bSpecN1), color: INK }, { data: pairs(bSpecN2), color: RED }, { data: pairs(bSpecN3), color: BLUE }],
    notes: [{ text: 'n=1', x: -0.07, y: 0.77, color: INK }, { text: 'n=2', x: -0.03, y: 0.235, color: RED }, { text: 'n=3', x: 0, y: 0.1, color: BLUE }]
});
panel({
    rect: [452, 358, 749, 578], x: [-3, 3, 1], y: [-42.6, 22.1, 10], xTitle: XMM, yTitle: DB, smooth: true,
    series: [{ data: pairs(bDbN1), color: INK }, { data: pairs(bDbN2), color: RED }, { data: pairs(bDbN3), color: BLUE }, { data: pairs(bDbN4), color: GREEN }],
    notes: [{ text: 'n=1', x: -0.09, y: 20.4, color: INK }, { text: 'n=2', x: -0.09, y: 10.1, color: RED }, { text: 'n=3', x: -0.07, y: 0.8, color: BLUE }, { text: 'n=4', x: -0.05, y: -7.6, color: GREEN }]
});
panel({
    rect: [68, 674, 367, 896], x: [-50, 50, 10], y: [0, 1, 0.2], xTitle: ZMM, yTitle: SPEC, smooth: false,
    series: [{ data: pairs(cSpecN1), color: INK }, { data: pairs(cSpecN2), color: RED }, { data: pairs(cSpecN3), color: BLUE }],
    notes: [{ text: 'n=1', x: 1.5, y: 0.935, color: INK }, { text: 'n=2', x: -0.3, y: 0.12, color: RED }, { text: 'n=3', x: 0.9, y: 0.02, color: BLUE }]
});
panel({
    rect: [457, 673, 754, 896], x: [-50, 50, 10], y: [-50, 15.3, 10], xTitle: ZMM, yTitle: DB, smooth: false,
    series: [{ data: pairs(cDbN1), color: INK }, { data: pairs(cDbN2), color: RED }, { data: everyMm(cDbN3, -50), color: BLUE }, { data: everyMm(cDbN4, -50), color: GREEN }],
    notes: [{ text: 'n=1', x: 0, y: 11.4, color: INK }, { text: 'n=2', x: 0, y: -8.3, color: RED }, { text: 'n=3', x: -0.3, y: -29.2, color: BLUE }, { text: 'n=4', x: -1, y: -37, color: INK }]
});
panel({
    rect: [68, 989, 367, 1211], x: [-40, 50, 10], y: [0, 1, 0.2], xTitle: ZMM, yTitle: SPEC, smooth: false,
    series: [{ data: pairs(dSpecN1), color: INK }, { data: pairs(dSpecN2), color: RED }, { data: pairs(dSpecN3), color: BLUE }, { data: pairs(dSpecN4), color: GREEN }],
    notes: [{ text: 'n=1', x: 1.8, y: 0.808, color: INK }, { text: 'n=2', x: 0.6, y: 0.219, color: RED }, { text: 'n=3', x: 0.5, y: 0.098, color: BLUE }]
});
panel({
    rect: [458, 989, 755, 1211], x: [-50, 50, 10], y: [-40, 25, 10], xTitle: ZMM, yTitle: DB, smooth: false,
    series: [{ data: pairs(dDbN1), color: INK }, { data: pairs(dDbN2), color: RED }, { data: pairs(dDbN3), color: BLUE }, { data: pairs(dDbN4), color: GREEN }],
    notes: [{ text: 'n=1', x: -0.5, y: 21, color: INK }, { text: 'n=2', x: -0.5, y: 9.3, color: RED }, { text: 'n=3', x: -0.5, y: -0.3, color: BLUE }, { text: 'n=4', x: -0.5, y: -9.1, color: GREEN }]
});
</script>
</body>
</html>
